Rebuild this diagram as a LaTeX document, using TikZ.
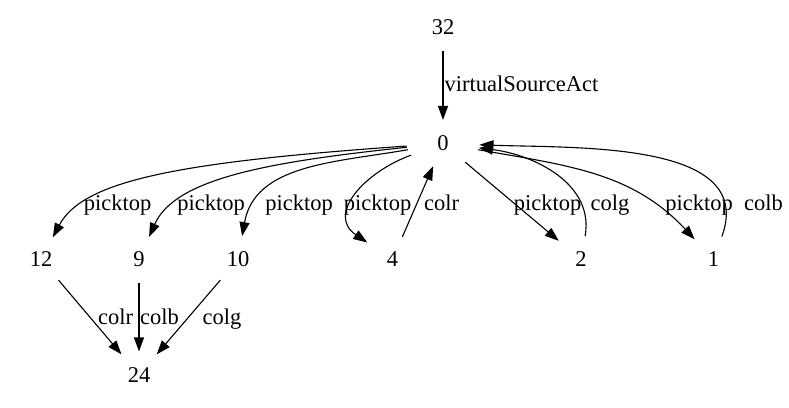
\documentclass[tikz,border=0pt]{standalone}
\usepackage{fontspec}
\setmainfont{Liberation Serif}
\usetikzlibrary{shapes.geometric, arrows.meta}

\begin{document}
\begin{tikzpicture}[x=1pt, y=-1pt, line width=1.1pt,
		font=\fontsize{22.5}{27}\selectfont,
		state/.style={ellipse, minimum width=72pt, minimum height=46pt, inner sep=0pt},
		lbl/.style={anchor=base, inner sep=0pt},
		>={Triangle[length=14pt, width=10pt]}]
		\useasboundingbox (0, 0) rectangle (789, 407);

		\node[state] (n32) at (443, 27.5)  {32};
		\node[state] (n0)  at (443, 143.5) {0};
		\node[state] (n12) at (41, 259.5)  {12};
		\node[state] (n9)  at (139, 259.5) {9};
		\node[state] (n10) at (238, 259.5) {10};
		\node[state] (n4)  at (392.5, 259.5) {4};
		\node[state] (n2)  at (581, 259.5) {2};
		\node[state] (n1)  at (713.5, 259.5) {1};
		\node[state] (n24) at (139, 375)   {24};

		\draw[->] (n32) -- (n0);
		\draw[->] (n0) to[out=184, in=62, out looseness=1.6, in looseness=0.45] (n12);
		\draw[->] (n0) to[out=186, in=66, out looseness=1.3, in looseness=0.6] (n9);
		\draw[->] (n0) to[out=190, in=80] (n10);
		\draw[->] (n0) to[out=200, in=146, looseness=1.3] (n4);
		\draw[->] (n4) -- (n0);
		\draw[->] (n0) -- (n2);
		\draw[->] (n2) to[out=80, in=-7] (n0);
		\draw[->] (n0) to[out=-10, in=133] (n1);
		\draw[->] (n1) to[out=70, in=-2] (n0);
		\draw[->] (n12) -- (n24);
		\draw[->] (n9)  -- (n24);
		\draw[->] (n10) -- (n24);

		% edge labels
		\node[lbl, anchor=base west] (l32) at (444, 91.5) {virtualSourceAct};
		\node[lbl] (l12) at (117.5, 210) {picktop};
		\node[lbl] (l9)  at (211, 210)   {picktop};
		\node[lbl] (l10) at (299, 210)   {picktop};
		\node[lbl] (l4)  at (377.5, 210) {picktop};
		\node[lbl] (l40) at (441.5, 210) {colr};
		\node[lbl] (l2)  at (547.5, 210) {picktop};
		\node[lbl] (l20) at (610, 210)   {colg};
		\node[lbl] (l1)  at (699, 210)   {picktop};
		\node[lbl] (l10b) at (763.5, 210) {colb};
		\node[lbl] (l1224) at (115.5, 324) {colr};
		\node[lbl] (l924)  at (159.5, 324) {colb};
		\node[lbl] (l1024) at (222, 324)   {colg};
	\end{tikzpicture}
\end{document}
